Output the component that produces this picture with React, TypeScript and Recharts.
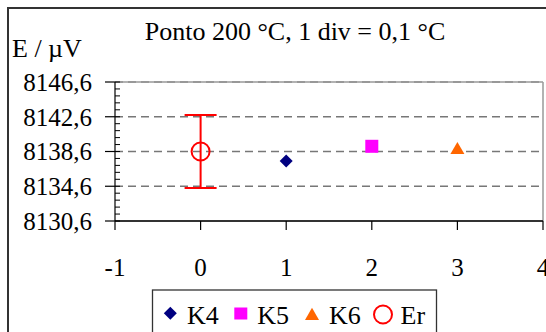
import React from "react";
import {
  ScatterChart,
  Scatter,
  XAxis,
  YAxis,
  CartesianGrid,
  ReferenceLine,
  ErrorBar,
} from "recharts";

// ---- data ----
const xTicks = [-1, 0, 1, 2, 3, 4];
const yTicks = [8130.6, 8134.6, 8138.6, 8142.6, 8146.6];
const yMinorStep = 0.8;
const yMin = 8130.6;
const yMax = 8146.6;
const yMinorTicks = Array.from(
  { length: Math.round((yMax - yMin) / yMinorStep) + 1 },
  (_, i) => +(yMin + i * yMinorStep).toFixed(1)
);

const k4 = [{ x: 1, y: 8137.5 }];
const k5 = [{ x: 2, y: 8139.2 }];
const k6 = [{ x: 3, y: 8139.0 }];
const er = [{ x: 0, y: 8138.6, err: 4.2 }];

const titleText = "Ponto 200 °C, 1 div = 0,1 °C";
const yAxisTitle = "E / µV";
const legendItems = ["K4", "K5", "K6", "Er"];

const FONT = "'Liberation Serif', 'Times New Roman', serif";

const fmt = (v: number) => v.toFixed(1).replace(".", ",");

// ---- shapes ----
const Diamond = (p: any) => {
  const { cx, cy } = p;
  return (
    <polygon
      points={`${cx},${cy - 6.5} ${cx + 6.5},${cy} ${cx},${cy + 6.5} ${cx - 6.5},${cy}`}
      fill="#000080"
    />
  );
};
const Square = (p: any) => {
  const { cx, cy } = p;
  return <rect x={cx - 6.5} y={cy - 6.5} width={13} height={13} fill="#FF00FF" />;
};
const Triangle = (p: any) => {
  const { cx, cy } = p;
  return (
    <polygon
      points={`${cx},${cy - 6} ${cx + 7},${cy + 6} ${cx - 7},${cy + 6}`}
      fill="#FF6600"
    />
  );
};
const Circle = (p: any) => {
  const { cx, cy } = p;
  return <circle cx={cx} cy={cy} r={9} fill="none" stroke="#FF0000" strokeWidth={2} />;
};
const NoLabel = () => <g />;

export default function App() {
  return (
    <div
      style={{
        position: "fixed",
        left: 0,
        top: 0,
        width: 546,
        height: 332,
        overflow: "hidden",
        background: "#fff",
        fontFamily: FONT,
      }}
    >
      <div
        style={{
          position: "absolute",
          left: 7,
          top: 6.5,
          width: 700,
          height: 500,
          border: "2px solid #333",
          boxSizing: "border-box",
        }}
      />
      <div style={{ position: "absolute", left: 0, top: 0 }}>
        <ScatterChart
          width={546}
          height={332}
          margin={{ top: 82, right: 3, bottom: 0, left: 0 }}
          style={{ fontFamily: FONT }}
        >
          <CartesianGrid
            vertical={false}
            stroke="#777"
            strokeDasharray="8 5"
            strokeWidth={1.3}
          />
          <XAxis
            type="number"
            dataKey="x"
            domain={[-1, 4]}
            ticks={xTicks}
            interval={0}
            height={111}
            tickSize={9}
            tickMargin={28}
            allowDataOverflow
            axisLine={{ stroke: "#333", strokeWidth: 2 }}
            tickLine={{ stroke: "#000", strokeWidth: 1.2 }}
            tick={{ fontSize: 25, fill: "#000", fontFamily: FONT }}
          />
          <YAxis
            type="number"
            dataKey="y"
            domain={[yMin, yMax]}
            ticks={yTicks}
            interval={0}
            width={115}
            tickSize={10}
            tickMargin={13}
            allowDataOverflow
            tickFormatter={fmt}
            axisLine={{ stroke: "#000", strokeWidth: 1.2 }}
            tickLine={{ stroke: "#000", strokeWidth: 1.2 }}
            tick={{ fontSize: 25, fill: "#000", fontFamily: FONT }}
          />
          <YAxis
            yAxisId="minor"
            type="number"
            dataKey="y"
            domain={[yMin, yMax]}
            ticks={yMinorTicks}
            interval={0}
            width={1}
            mirror
            tickSize={5}
            tick={NoLabel}
            allowDataOverflow
            axisLine={false}
            tickLine={{ stroke: "#000", strokeWidth: 1 }}
          />
          <ReferenceLine y={yMax} stroke="#999" strokeWidth={1.5} />
          <ReferenceLine x={4} stroke="#999" strokeWidth={1.5} />
          <Scatter data={er} shape={Circle} isAnimationActive={false}>
            <ErrorBar
              dataKey="err"
              direction="y"
              width={16}
              stroke="#FF0000"
              strokeWidth={2}
              isAnimationActive={false}
            />
          </Scatter>
          <Scatter data={k4} shape={Diamond} isAnimationActive={false} />
          <Scatter data={k5} shape={Square} isAnimationActive={false} />
          <Scatter data={k6} shape={Triangle} isAnimationActive={false} />
        </ScatterChart>
      </div>
      <svg
        width={546}
        height={332}
        style={{ position: "absolute", left: 0, top: 0, pointerEvents: "none" }}
      >
        <text x={295} y={39.5} textAnchor="middle" fontSize={26} fontFamily={FONT} fill="#000">
          {titleText}
        </text>
        <text x={12} y={57} fontSize={26} fontFamily={FONT} fill="#000">
          {yAxisTitle}
        </text>
        <rect x={152.5} y={290} width={284} height={80} fill="#fff" stroke="#333" strokeWidth={1.3} />
        <polygon points="170.3,306.8 176.8,313.3 170.3,319.8 163.8,313.3" fill="#000080" />
        <text x={187} y={323.5} fontSize={26} fontFamily={FONT} fill="#000">{legendItems[0]}</text>
        <rect x={234.3} y={307.5} width={13} height={12} fill="#FF00FF" />
        <text x={257.3} y={323.5} fontSize={26} fontFamily={FONT} fill="#000">{legendItems[1]}</text>
        <polygon points="312,307.7 319,320 305,320" fill="#FF6600" />
        <text x={329} y={323.5} fontSize={26} fontFamily={FONT} fill="#000">{legendItems[2]}</text>
        <circle cx={383} cy={314.5} r={9} fill="none" stroke="#FF0000" strokeWidth={2} />
        <text x={400.5} y={323.5} fontSize={26} fontFamily={FONT} fill="#000">{legendItems[3]}</text>
      </svg>
    </div>
  );
}
